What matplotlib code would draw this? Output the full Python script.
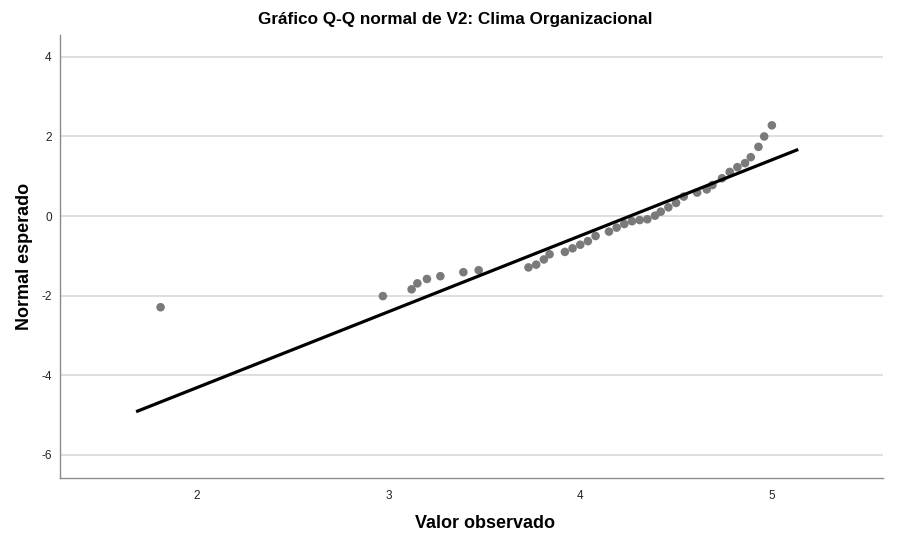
import matplotlib.pyplot as plt

plt.rcParams['font.family'] = ['Liberation Sans', 'DejaVu Sans']
plt.rcParams['axes.unicode_minus'] = False

obs = [1.81, 2.97, 3.12, 3.15, 3.20, 3.27, 3.39, 3.47, 3.73, 3.77, 3.81, 3.84,
       3.92, 3.96, 4.00, 4.04, 4.08, 4.15, 4.19, 4.23, 4.27, 4.31, 4.35, 4.39,
       4.42, 4.46, 4.50, 4.54, 4.61, 4.66, 4.69, 4.74, 4.78, 4.82, 4.86, 4.89,
       4.93, 4.96, 5.00]
esp = [-2.29, -2.01, -1.84, -1.69, -1.58, -1.51, -1.41, -1.36, -1.29, -1.22,
       -1.09, -0.96, -0.90, -0.81, -0.72, -0.63, -0.50, -0.39, -0.29, -0.20,
       -0.13, -0.10, -0.08, 0.01, 0.11, 0.22, 0.33, 0.49, 0.59, 0.67, 0.78,
       0.95, 1.11, 1.23, 1.33, 1.48, 1.74, 2.00, 2.28]

# linha de referência
linha_x = [1.69, 5.13]
linha_y = [-4.90, 1.66]

xticks = [2, 3, 4, 5]
yticks = [-6, -4, -2, 0, 2, 4]

fig = plt.figure(figsize=(8.98, 5.34), dpi=100)
ax = fig.add_axes([0.0668, 0.1049, 0.9165, 0.8296])

ax.scatter(obs, esp, s=38, color='#7a7a7a', edgecolors='none', zorder=3)
ax.plot(linha_x, linha_y, color='black', linewidth=2.3, zorder=4)

ax.set_xlim(1.285, 5.58)
ax.set_ylim(-6.58, 4.55)
ax.set_xticks(xticks)
ax.set_yticks(yticks)
ax.tick_params(length=0, labelsize=8.5, colors='#222222')
ax.tick_params(axis='x', pad=9)
ax.tick_params(axis='y', pad=6)
ax.yaxis.grid(True, color='#d9d9d9', linewidth=1.2)
ax.set_axisbelow(True)

for s in ['top', 'right']:
    ax.spines[s].set_visible(False)
for s in ['left', 'bottom']:
    ax.spines[s].set_color('#8c8c8c')
    ax.spines[s].set_linewidth(1.0)

ax.set_xlabel('Valor observado', fontsize=13, fontweight='bold')
ax.xaxis.set_label_coords(0.516, -0.083)
ax.set_ylabel('Normal esperado', fontsize=13, fontweight='bold', labelpad=6)
fig.suptitle('Gráfico Q-Q normal de V2: Clima Organizacional', fontsize=12.3,
             fontweight='bold', x=0.507, y=0.978)

fig.savefig('out.png', dpi=100)
